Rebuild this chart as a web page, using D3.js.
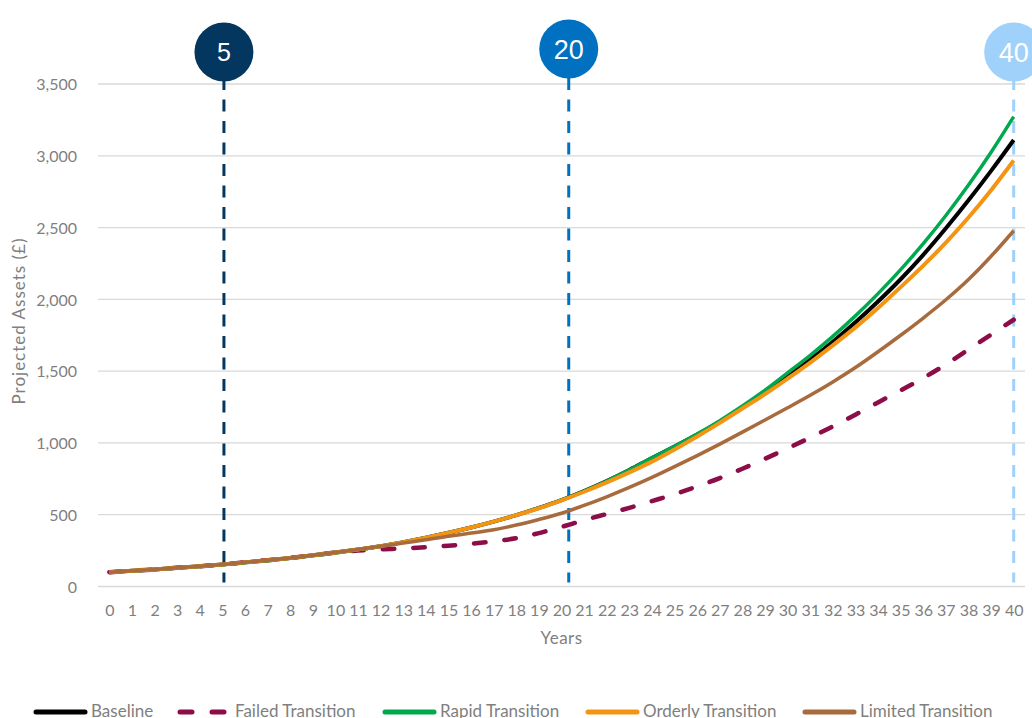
<!DOCTYPE html>
<html>
<head>
    <meta charset="utf-8">
    <title>Projected Assets</title>
    <script type="text/javascript" src="https://cdn.jsdelivr.net/npm/d3@7"></script>
    <style type="text/css">
        body {
            margin: 0;
            background: #fff;
        }

        text {
            font-family: Lato, "Open Sans", sans-serif;
            fill: #7f7f7f;
        }

        .marker text {
            font-family: "Liberation Sans", Arial, sans-serif;
            fill: #fff;
        }
    </style>
</head>

<body>

<script type="text/javascript">
    // data
    var years = [0, 1, 2, 3, 4, 5, 6, 7, 8, 9, 10, 11, 12, 13, 14, 15, 16, 17, 18, 19, 20,
        21, 22, 23, 24, 25, 26, 27, 28, 29, 30, 31, 32, 33, 34, 35, 36, 37, 38, 39, 40];

    var baseline = [100, 109, 119, 130, 141, 154, 168, 183, 199, 217, 237, 258, 281, 309, 340, 374, 411, 452, 497, 547, 602,
        665, 735, 812, 895, 975, 1058, 1148, 1245, 1350, 1465, 1580, 1705, 1840, 1985, 2140, 2310, 2495, 2690, 2895, 3110];

    var failed = [100, 109, 119, 130, 141, 154, 168, 183, 199, 217, 237, 250, 258, 265, 273, 284, 298, 314, 337, 372, 415,
        462, 505, 548, 595, 643, 697, 755, 820, 890, 962, 1037, 1115, 1197, 1282, 1366, 1452, 1547, 1650, 1755, 1858];

    var rapid = [100, 108, 117, 128, 139, 151, 165, 180, 196, 214, 234, 256, 280, 309, 340, 374, 411, 452, 497, 547, 602,
        665, 735, 812, 897, 976, 1062, 1155, 1257, 1367, 1488, 1610, 1742, 1885, 2040, 2207, 2388, 2584, 2796, 3025, 3273];

    var orderly = [100, 109, 119, 130, 141, 154, 168, 183, 199, 217, 237, 258, 281, 309, 340, 374, 411, 452, 497, 545, 600,
        660, 725, 795, 870, 955, 1045, 1140, 1240, 1340, 1448, 1560, 1680, 1805, 1940, 2085, 2235, 2395, 2570, 2760, 2967];

    var limited = [100, 109, 119, 130, 141, 154, 168, 183, 199, 217, 237, 258, 280, 303, 325, 350, 372, 395, 428, 467, 510,
        565, 625, 690, 760, 835, 912, 992, 1075, 1160, 1245, 1332, 1425, 1525, 1635, 1750, 1870, 1997, 2138, 2300, 2478];

    var seriesNames = ["Baseline", "Failed Transition", "Rapid Transition", "Orderly Transition", "Limited Transition"];
    var seriesValues = [baseline, failed, rapid, orderly, limited];
    var seriesColors = ["#000000", "#8c0d47", "#00a94f", "#f39512", "#a76b3d"];
    var seriesWidths = [4, 4.5, 3.5, 4, 3.5];

    var yTicks = [0, 500, 1000, 1500, 2000, 2500, 3000, 3500];

    var markerYears = [5.07, 20.32, 40];
    var markerLabels = ["5", "20", "40"];
    var markerColors = ["#04375f", "#0070c0", "#9fd1fb"];

    var w = 1032, h = 718,
        plotLeft = 98, plotRight = 1025, plotTop = 84, plotBottom = 586.5;

    var svg = d3.select("body")
        .append("svg")
            .attr("width", w)
            .attr("height", h);

    var x = d3.scalePoint()
        .domain(years)
        .range([plotLeft, plotRight])
        .padding(0.5);

    var xl = d3.scaleLinear()
        .domain([years[0], years[years.length - 1]])
        .range([x(years[0]), x(years[years.length - 1])]);

    var y = d3.scaleLinear()
        .domain([0, 3500])
        .range([plotBottom, plotTop]);

    // gridlines
    svg.append("g")
        .selectAll("line")
        .data(yTicks)
        .enter().append("line")
            .attr("x1", plotLeft)
            .attr("x2", plotRight)
            .attr("y1", function (d) {return y(d);})
            .attr("y2", function (d) {return y(d);})
            .attr("stroke", "#d9d9d9")
            .attr("stroke-width", 1.3);

    // axes
    var yAxis = svg.append("g")
        .attr("transform", "translate(" + plotLeft + ",0)")
        .call(d3.axisLeft(y).tickValues(yTicks).tickSize(0).tickPadding(21).tickFormat(d3.format(",")));
    yAxis.select(".domain").remove();
    yAxis.selectAll("text")
        .attr("dy", "0.36em")
        .style("font-size", "16px")
        .style("font-family", "Lato, sans-serif")
        .attr("fill", "#7f7f7f");

    var xAxis = svg.append("g")
        .attr("transform", "translate(0," + plotBottom + ")")
        .call(d3.axisBottom(x).tickSize(0).tickPadding(18));
    xAxis.select(".domain").remove();
    xAxis.selectAll("text")
        .style("font-size", "16px")
        .style("font-family", "Lato, sans-serif")
        .attr("fill", "#7f7f7f");

    svg.append("text")
        .attr("x", (plotLeft + plotRight) / 2)
        .attr("y", 644)
        .attr("text-anchor", "middle")
        .style("font-size", "17px")
        .style("letter-spacing", "0.5px")
        .text("Years");

    svg.append("text")
        .attr("transform", "translate(25,321) rotate(-90)")
        .attr("text-anchor", "middle")
        .style("font-size", "17px")
        .style("letter-spacing", "1px")
        .text("Projected Assets (£)");

    // markers
    var marker = svg.append("g")
        .attr("class", "marker")
        .selectAll("g")
        .data(markerYears)
        .enter().append("g");

    marker.append("line")
        .attr("x1", function (d) {return xl(d);})
        .attr("x2", function (d) {return xl(d);})
        .attr("y1", y(3500) - 6)
        .attr("y2", y(0) - 4)
        .attr("stroke", function (d, i) {return markerColors[i];})
        .attr("stroke-width", 3)
        .attr("stroke-dasharray", "12 9.5");

    var line = d3.line()
        .x(function (d, i) {return x(years[i]);})
        .y(function (d) {return y(d);})
        .curve(d3.curveMonotoneX);

    svg.append("g")
        .selectAll("path")
        .data(seriesValues)
        .enter().append("path")
            .attr("d", line)
            .attr("fill", "none")
            .attr("stroke", function (d, i) {return seriesColors[i];})
            .attr("stroke-width", function (d, i) {return seriesWidths[i];})
            .attr("stroke-linecap", function (d, i) {return i === 1 ? "round" : "butt";})
            .attr("stroke-dasharray", function (d, i) {return i === 1 ? "11.5 19" : null;});

    var circleY = [52, 49, 52];
    marker.append("circle")
        .attr("cx", function (d) {return xl(d);})
        .attr("cy", function (d, i) {return circleY[i];})
        .attr("r", 29.5)
        .attr("fill", function (d, i) {return markerColors[i];});

    marker.append("text")
        .attr("x", function (d) {return xl(d);})
        .attr("y", function (d, i) {return circleY[i];})
        .attr("dy", "0.36em")
        .attr("text-anchor", "middle")
        .style("font-size", function (d, i) {return i === 0 ? "25px" : "27px";})
        .text(function (d, i) {return markerLabels[i];});

    // legend
    var legendX = [34, 178, 383, 586, 803];
    var legend = svg.append("g")
        .selectAll("g")
        .data(seriesNames)
        .enter().append("g")
            .attr("transform", function (d, i) {return "translate(" + legendX[i] + ",0)";});

    legend.append("line")
        .attr("x1", 2)
        .attr("x2", 51)
        .attr("y1", 712)
        .attr("y2", 712)
        .attr("stroke", function (d, i) {return seriesColors[i];})
        .attr("stroke-width", 5)
        .attr("stroke-linecap", "round")
        .attr("stroke-dasharray", function (d, i) {return i === 1 ? "12 20" : null;});

    legend.append("text")
        .attr("x", 57)
        .attr("y", 717)
        .style("font-size", "17px")
        .text(function (d) {return d;});

</script>

</body>

</html>
